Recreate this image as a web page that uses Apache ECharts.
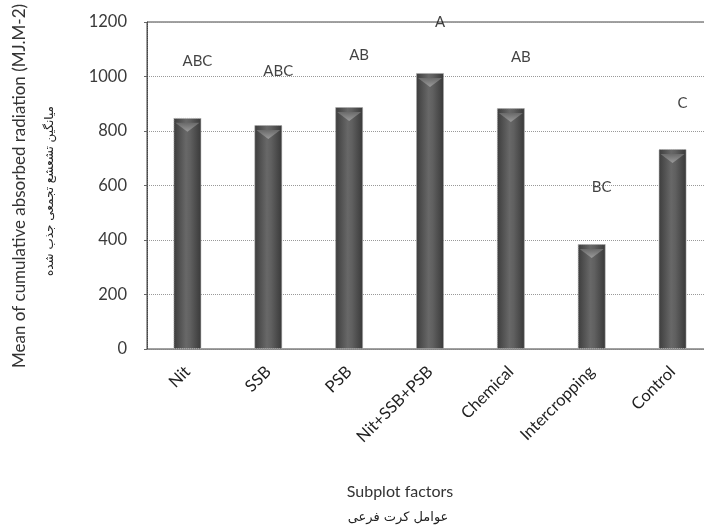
<!DOCTYPE html>
<html><head><meta charset="utf-8">
<script src="https://cdn.jsdelivr.net/npm/echarts@6/dist/echarts.min.js"></script>
<style>html,body{margin:0;padding:0;background:#fff}#c{width:704px;height:529px}</style>
</head><body><div id="c"></div>
<script>
const categories = ['Nit','SSB','PSB','Nit+SSB+PSB','Chemical','Intercropping','Control'];
const values = [848, 822, 888, 1013, 884, 385, 734];
const letters = ['ABC','ABC','AB','A','AB','BC','C'];
const letterPos = [1057, 1020, 1080, 1200, 1071, 594, 903];
const yTicks = [0, 200, 400, 600, 800, 1000, 1200];

const FONT = 'Lato, "Open Sans", sans-serif';
const chart = echarts.init(document.getElementById('c'));
chart.setOption({
  animation: false,
  backgroundColor: '#fff',
  grid: {left: 147, top: 22, width: 566, height: 327, outerBoundsMode: 'none', containLabel: false,
         show: true, borderColor: '#444', borderWidth: 1, backgroundColor: 'transparent'},
  xAxis: {
    type: 'category', data: categories,
    axisLine: {show: true, lineStyle: {color: '#888', type: 'dotted'}},
    axisTick: {show: false},
    axisLabel: {rotate: 45, margin: 20, fontSize: 16.5, color: '#222', fontFamily: FONT, interval: 0}
  },
  yAxis: {
    type: 'value', min: yTicks[0], max: yTicks[yTicks.length-1], interval: 200,
    axisLine: {show: true, lineStyle: {color: '#444', type: 'dotted'}},
    axisTick: {show: true, length: 3, lineStyle: {color: '#666'}},
    axisLabel: {fontSize: 16.5, color: '#3a3a3a', fontFamily: FONT, margin: 20, formatter: v => String(v)},
    splitLine: {show: true, lineStyle: {color: '#999', type: 'dotted', width: 1}}
  },
  series: [
    {
      type: 'bar', data: values, barWidth: 28, z: 2,
      itemStyle: {
        color: new echarts.graphic.LinearGradient(0, 0, 1, 0, [
          {offset: 0, color: '#3c3c3c'},
          {offset: 0.45, color: '#686868'},
          {offset: 0.6, color: '#606060'},
          {offset: 1, color: '#383838'}
        ]),
        borderColor: '#aaa', borderWidth: 1, borderType: 'dotted'
      }
    },
    {
      type: 'pictorialBar', data: values, symbol: 'triangle', symbolRotate: 180,
      symbolPosition: 'end', symbolSize: [24, 9], symbolOffset: [0, '55%'], z: 3, silent: true,
      barGap: '-100%',
      itemStyle: {color: new echarts.graphic.LinearGradient(0, 0, 0, 1, [
        {offset: 0, color: '#9a9a9a'}, {offset: 1, color: '#6a6a6a'}])}
    },
    {
      type: 'scatter', data: letterPos, symbolSize: 0, silent: true, clip: false, z: 5,
      label: {
        show: true, position: 'inside', offset: [10, 0],
        formatter: p => letters[p.dataIndex],
        fontSize: 15, color: '#111', fontFamily: FONT
      }
    }
  ],
  graphic: [
    {type: 'text', x: 20, y: 186, rotation: Math.PI/2,
     style: {text: 'Mean of cumulative absorbed radiation (MJ.M-2)', fontSize: 17, fill: '#333', fontFamily: FONT, align: 'center', verticalAlign: 'middle'}},
    {type: 'text', x: 50, y: 191, rotation: Math.PI/2,
     style: {text: 'میانگین تشعشع تجمعی جذب شده', fontSize: 12, fill: '#222', fontFamily: '"DejaVu Sans", sans-serif', align: 'center', verticalAlign: 'middle'}},
    {type: 'text', x: 400, y: 492,
     style: {text: 'Subplot factors', fontSize: 16, fill: '#333', fontFamily: FONT, align: 'center', verticalAlign: 'middle'}},
    {type: 'text', x: 398, y: 518,
     style: {text: 'عوامل کرت فرعی', fontSize: 13, fill: '#222', fontFamily: '"DejaVu Sans", sans-serif', align: 'center', verticalAlign: 'middle'}}
  ]
});
</script></body></html>
